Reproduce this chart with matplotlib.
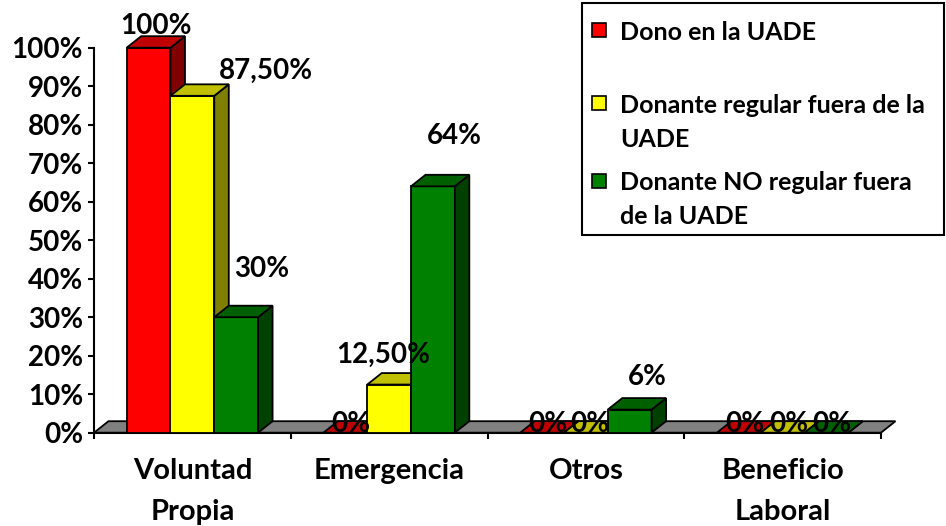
import numpy as np
import matplotlib
matplotlib.use("Agg")
import matplotlib.pyplot as plt
from matplotlib.patches import Polygon, Rectangle

plt.rcParams["font.family"] = ["Lato", "DejaVu Sans"]
plt.rcParams["font.weight"] = "bold"

# data
categories = ["Voluntad\nPropia", "Emergencia", "Otros", "Beneficio\nLaboral"]
series_names = ["Dono en la UADE", "Donante regular fuera de la\nUADE", "Donante NO regular fuera\nde la UADE"]
dono_uade = [100, 0, 0, 0]
regular_fuera = [87.5, 12.5, 0, 0]
no_regular_fuera = [30, 64, 6, 0]
y_ticks = list(range(0, 101, 10))

# colours: front, top, side
front_colors = ["#ff0000", "#ffff00", "#008000"]
top_colors = ["#c00000", "#c0c000", "#006000"]
side_colors = ["#800000", "#808000", "#004000"]
floor_color = "#808080"

# label nudges in pixels (Excel places 3d labels a bit oddly)
label_offsets = [
    [(0, 13), (-2, 0), (-2, 0), (-1, 0)],
    [(66, 16), (-13, 21), (-3, 0), (-1, 0)],
    [(18, 39), (14, 41), (10, 24), (-2, 0)],
]

PX = 0.72  # pixels -> points at dpi 100
FS_TICK = 20
FS_LABEL = 20
FS_CAT = 21
FS_LEG = 18


def pct_label(v: float) -> str:
    if float(v).is_integer():
        return f"{int(v)}%"
    return f"{v:.2f}".replace(".", ",") + "%"


fig = plt.figure(figsize=(9.46, 5.26), dpi=100)
ax = fig.add_axes([94 / 946, 1 - 432.7 / 526, 787 / 946, 385 / 526])
ax.set_xlim(0, 4)
ax.set_ylim(0, 100)

# depth of the fake 3d in data units
dx = 14.5 / (787 / 4)
dy = 11.5 / 3.85
width = 43.8 / (787 / 4)

floor = Polygon([(0, 0), (4, 0), (4 + dx, dy), (dx, dy)], closed=True,
                facecolor=floor_color, edgecolor="black", lw=1.3, zorder=1, clip_on=False)
ax.add_patch(floor)

centers = np.arange(len(categories)) + 0.5
all_series = [dono_uade, regular_fuera, no_regular_fuera]

for j, values in enumerate(all_series):
    z = 3 + j
    lefts = centers - 1.5 * width + j * width
    ax.bar(lefts, values, width=width, align="edge", color=front_colors[j],
           edgecolor="black", linewidth=1.3, zorder=z, clip_on=False)
    for xl, v in zip(lefts, values):
        top = Polygon([(xl, v), (xl + width, v), (xl + width + dx, v + dy), (xl + dx, v + dy)],
                      closed=True, facecolor=top_colors[j], edgecolor="black", lw=1.3,
                      zorder=z, clip_on=False)
        side = Polygon([(xl + width, 0), (xl + width, v), (xl + width + dx, v + dy), (xl + width + dx, dy)],
                       closed=True, facecolor=side_colors[j], edgecolor="black", lw=1.3,
                       zorder=z, clip_on=False)
        ax.add_patch(side)
        ax.add_patch(top)

    for k, (xl, v) in enumerate(zip(lefts, values)):
        ox, oy = label_offsets[j][k]
        ax.annotate(pct_label(v), (xl + width / 2 + dx / 2, v + dy),
                    xytext=(ox * PX, oy * PX), textcoords="offset points",
                    ha="center", va="center_baseline", fontsize=FS_LABEL, fontweight="bold",
                    zorder=10, annotation_clip=False)

# axes styling
for s in ["top", "right"]:
    ax.spines[s].set_visible(False)
ax.spines["left"].set_linewidth(1.5)
ax.spines["bottom"].set_linewidth(1.5)
ax.spines["left"].set_zorder(2)

ax.set_yticks(y_ticks)
ax.set_yticklabels([f"{t}%" for t in y_ticks], fontsize=FS_TICK, fontweight="bold")
ax.tick_params(axis="y", length=6 * PX, width=1.5, pad=5 * PX)

ax.set_xticks(np.arange(len(categories) + 1))
ax.set_xticklabels([])
ax.tick_params(axis="x", which="major", length=6 * PX, width=1.5)
ax.set_xticks(centers, minor=True)
ax.set_xticklabels(categories, minor=True, fontsize=FS_CAT, fontweight="bold", linespacing=1.75)
ax.tick_params(axis="x", which="minor", length=0, pad=25 * PX)

# legend box drawn by hand to mimic Excel layout
fig.patches.append(Rectangle((582 / 946, 1 - 235 / 526), (944 - 582) / 946, (235 - 3) / 526,
                             transform=fig.transFigure, fill=False, edgecolor="black", lw=1.5))
entry_y = [30, 103, 181]
line_step = 34
for j, name in enumerate(series_names):
    yc = entry_y[j]
    fig.patches.append(Rectangle((592 / 946, 1 - (yc + 7) / 526), 14 / 946, 14 / 526,
                                 transform=fig.transFigure, facecolor=front_colors[j],
                                 edgecolor="black", lw=1.2))
    for n, line in enumerate(name.split("\n")):
        fig.text(620 / 946, 1 - (yc + n * line_step) / 526, line, ha="left",
                 va="center_baseline", fontsize=FS_LEG, fontweight="bold")

fig.savefig("out.png", dpi=100)
